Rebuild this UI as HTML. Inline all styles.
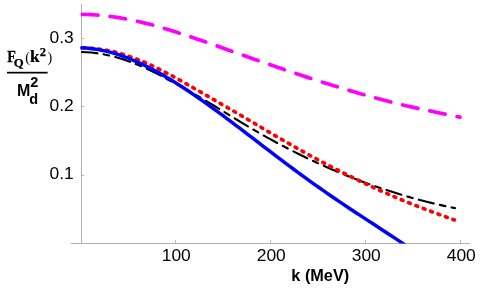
<!DOCTYPE html>
<html><head><meta charset="utf-8">
<style>
html,body{margin:0;padding:0;background:#fff;}
svg{display:block;will-change:transform;}
svg{font-family:"Liberation Sans",sans-serif;} text{fill:#000;}
.serif{font-family:"Liberation Serif",serif;font-weight:bold;}
.b{font-weight:bold;}
</style></head><body>
<svg width="485" height="289" viewBox="0 0 485 289">
<rect width="485" height="289" fill="#fff"/>
<!-- axes -->
<g stroke="#b0b0b0" stroke-width="1" fill="none" shape-rendering="crispEdges">
<line x1="81.5" y1="4" x2="81.5" y2="243.5"/>
<line x1="71.4" y1="243.5" x2="469.6" y2="243.5"/>
</g>
<g stroke="#b8b8b8" stroke-width="1" fill="none" shape-rendering="crispEdges">
<line x1="82" y1="38.5" x2="84.4" y2="38.5"/>
<line x1="82" y1="106.5" x2="84.4" y2="106.5"/>
<line x1="82" y1="175" x2="84.4" y2="175"/>
<line x1="175.5" y1="240" x2="175.5" y2="243"/>
<line x1="270.5" y1="240" x2="270.5" y2="243"/>
<line x1="365.5" y1="240" x2="365.5" y2="243"/>
<line x1="460.5" y1="240" x2="460.5" y2="243"/>
</g>
<!-- tick labels -->
<g font-size="17.4">
<text x="49.5" y="42.8">0.3</text>
<text x="49.5" y="111.1">0.2</text>
<text x="49.5" y="179.2">0.1</text>
<text x="176.3" y="261.4" text-anchor="middle">100</text>
<text x="271.3" y="261.4" text-anchor="middle">200</text>
<text x="366.3" y="261.4" text-anchor="middle">300</text>
<text x="461.3" y="261.4" text-anchor="middle">400</text>
</g>
<text class="b" x="291.3" y="281.2" font-size="16.3">k (MeV)</text>
<!-- y label -->
<g class="serif" stroke="#000" stroke-width="0.25">
<text x="0" y="0" font-size="17.2" transform="translate(7.2 61.8) scale(0.82 1)">F</text>
<text x="13.7" y="67" font-size="12.8">Q</text>
<text x="25.2" y="61.9" font-size="14.2" font-weight="normal" stroke="none">(</text>
<text x="0" y="0" font-size="15.8" transform="translate(29.9 61.7) scale(1.1 1)">k</text>
<text x="39.8" y="55.7" font-size="12.5">2</text>
<text x="47.6" y="61.9" font-size="14.2" font-weight="normal" stroke="none">)</text>
</g>
<rect x="7" y="71.8" width="40.6" height="1.7" fill="#000"/>
<g class="b">
<text x="17" y="96.3" font-size="16">M</text>
<text x="30.3" y="87.3" font-size="14.5">2</text>
<text x="29.3" y="103.7" font-size="14.5">d</text>
</g>
<!-- curves -->
<clipPath id="c"><rect x="0" y="0" width="485" height="243.4"/></clipPath>
<g fill="none" clip-path="url(#c)">
<path d="M81.80,51.98 L86.52,52.18 L91.25,52.55 L95.97,53.10 L100.70,53.81 L105.42,54.69 L110.14,55.75 L114.87,56.97 L119.59,58.33 L124.32,59.84 L129.04,61.48 L133.76,63.25 L138.49,65.14 L143.21,67.15 L147.94,69.28 L152.66,71.50 L157.38,73.88 L162.11,76.41 L166.83,79.02 L171.56,81.55 L176.28,84.08 L181.01,86.66 L185.73,89.23 L190.45,91.85 L195.18,94.51 L199.90,97.24 L204.63,100.00 L209.35,102.87 L214.07,105.76 L218.80,108.66 L223.52,111.57 L228.25,114.47 L232.97,117.37 L237.69,120.24 L242.42,123.10 L247.14,125.92 L251.87,128.71 L256.59,131.46 L261.31,134.17 L266.04,136.83 L270.76,139.44 L275.49,142.02 L280.21,144.55 L284.93,147.03 L289.66,149.47 L294.38,151.87 L299.11,154.23 L303.83,156.54 L308.55,158.81 L313.28,161.04 L318.00,163.22 L322.73,165.36 L327.45,167.46 L332.17,169.51 L336.90,171.52 L341.62,173.49 L346.35,175.42 L351.07,177.30 L355.79,179.14 L360.52,180.94 L365.24,182.70 L369.97,184.41 L374.69,186.08 L379.42,187.71 L384.14,189.30 L388.86,190.85 L393.59,192.35 L398.31,193.82 L403.04,195.24 L407.76,196.62 L412.48,197.95 L417.21,199.25 L421.93,200.51 L426.66,201.72 L431.38,202.89 L436.10,204.02 L440.83,205.11 L445.55,206.16 L450.28,207.17 L455.00,208.14" stroke="#000" stroke-width="2.1" stroke-dasharray="15.5 6.2 5.7 6.27" stroke-dashoffset="-0.2" stroke-linecap="round"/>
<path d="M81.80,47.89 L86.52,48.00 L91.23,48.27 L95.95,48.70 L100.67,49.29 L105.38,50.07 L110.10,51.01 L114.82,52.12 L119.53,53.39 L124.25,54.82 L128.96,56.32 L133.68,57.96 L138.40,59.74 L143.11,61.68 L147.83,63.76 L152.55,65.95 L157.26,68.24 L161.98,70.62 L166.70,73.07 L171.41,75.57 L176.13,78.13 L180.85,80.74 L185.56,83.39 L190.28,86.09 L194.99,88.80 L199.71,91.53 L204.43,94.26 L209.14,97.00 L213.86,99.71 L218.58,102.42 L223.29,105.15 L228.01,107.88 L232.73,110.62 L237.44,113.38 L242.16,116.15 L246.88,118.92 L251.59,121.71 L256.31,124.50 L261.03,127.29 L265.74,130.08 L270.46,132.86 L275.17,135.63 L279.89,138.39 L284.61,141.13 L289.32,143.85 L294.04,146.54 L298.76,149.20 L303.47,151.84 L308.19,154.45 L312.91,157.02 L317.62,159.57 L322.34,162.08 L327.06,164.57 L331.77,167.02 L336.49,169.45 L341.21,171.84 L345.92,174.21 L350.64,176.54 L355.35,178.85 L360.07,181.12 L364.79,183.36 L369.50,185.58 L374.22,187.76 L378.94,189.92 L383.65,192.04 L388.37,194.14 L393.09,196.21 L397.80,198.25 L402.52,200.22 L407.24,202.14 L411.95,204.03 L416.67,205.89 L421.38,207.72 L426.10,209.53 L430.82,211.31 L435.53,213.09 L440.25,214.84 L444.97,216.57 L449.68,218.27 L454.40,219.94" stroke="#ff0000" stroke-width="3.7" stroke-dasharray="1.9 5.9954" stroke-dashoffset="-0.92" stroke-linecap="round"/>
<path d="M81.80,47.81 L85.95,48.03 L90.11,48.40 L94.26,48.93 L98.42,49.61 L102.57,50.41 L106.73,51.35 L110.88,52.42 L115.04,53.62 L119.19,54.94 L123.34,56.39 L127.50,57.95 L131.65,59.61 L135.81,61.36 L139.96,63.20 L144.12,65.15 L148.27,67.19 L152.43,69.33 L156.58,71.57 L160.73,73.89 L164.89,76.29 L169.04,78.75 L173.20,81.28 L177.35,83.87 L181.51,86.53 L185.66,89.25 L189.82,92.01 L193.97,94.84 L198.12,97.71 L202.28,100.62 L206.43,103.57 L210.59,106.56 L214.74,109.58 L218.90,112.62 L223.05,115.69 L227.21,118.79 L231.36,121.91 L235.51,125.04 L239.67,128.20 L243.82,131.36 L247.98,134.54 L252.13,137.72 L256.29,140.91 L260.44,144.10 L264.59,147.28 L268.75,150.46 L272.90,153.64 L277.06,156.80 L281.21,159.94 L285.37,163.07 L289.52,166.18 L293.68,169.27 L297.83,172.33 L301.98,175.37 L306.14,178.39 L310.29,181.38 L314.45,184.34 L318.60,187.27 L322.76,190.18 L326.91,193.07 L331.07,195.94 L335.22,198.78 L339.37,201.61 L343.53,204.40 L347.68,207.17 L351.84,209.93 L355.99,212.67 L360.15,215.41 L364.30,218.14 L368.46,220.86 L372.61,223.58 L376.76,226.29 L380.92,229.00 L385.07,231.72 L389.23,234.44 L393.38,237.16 L397.54,239.88 L401.69,242.62 L405.85,245.36 L410.00,248.11" stroke="#0000ff" stroke-width="3.5" stroke-linecap="round"/>
<path d="M81.80,14.37 L86.59,14.49 L91.37,14.71 L96.16,15.01 L100.95,15.41 L105.74,15.90 L110.52,16.48 L115.31,17.15 L120.10,17.91 L124.89,18.74 L129.67,19.66 L134.46,20.65 L139.25,21.71 L144.04,22.84 L148.82,24.03 L153.61,25.32 L158.40,26.68 L163.18,28.09 L167.97,29.55 L172.76,31.05 L177.55,32.60 L182.33,34.15 L187.12,35.71 L191.91,37.30 L196.70,38.91 L201.48,40.55 L206.27,42.21 L211.06,43.89 L215.85,45.58 L220.63,47.27 L225.42,48.98 L230.21,50.68 L234.99,52.39 L239.78,54.09 L244.57,55.79 L249.36,57.48 L254.14,59.16 L258.93,60.84 L263.72,62.51 L268.51,64.18 L273.29,65.83 L278.08,67.48 L282.87,69.11 L287.66,70.74 L292.44,72.35 L297.23,73.95 L302.02,75.54 L306.81,77.12 L311.59,78.68 L316.38,80.23 L321.17,81.77 L325.95,83.29 L330.74,84.79 L335.53,86.27 L340.32,87.74 L345.10,89.19 L349.89,90.62 L354.68,92.03 L359.47,93.42 L364.25,94.79 L369.04,96.14 L373.83,97.47 L378.62,98.77 L383.40,100.06 L388.19,101.31 L392.98,102.55 L397.76,103.75 L402.55,104.91 L407.34,106.02 L412.13,107.10 L416.91,108.15 L421.70,109.17 L426.49,110.17 L431.28,111.17 L436.06,112.23 L440.85,113.26 L445.64,114.26 L450.43,115.23 L455.21,116.17 L460.00,117.07" stroke="#ff00ff" stroke-width="3.7" stroke-dasharray="15.7 12.12" stroke-dashoffset="-0.55" stroke-linecap="round"/>
</g>
</svg>
</body></html>
